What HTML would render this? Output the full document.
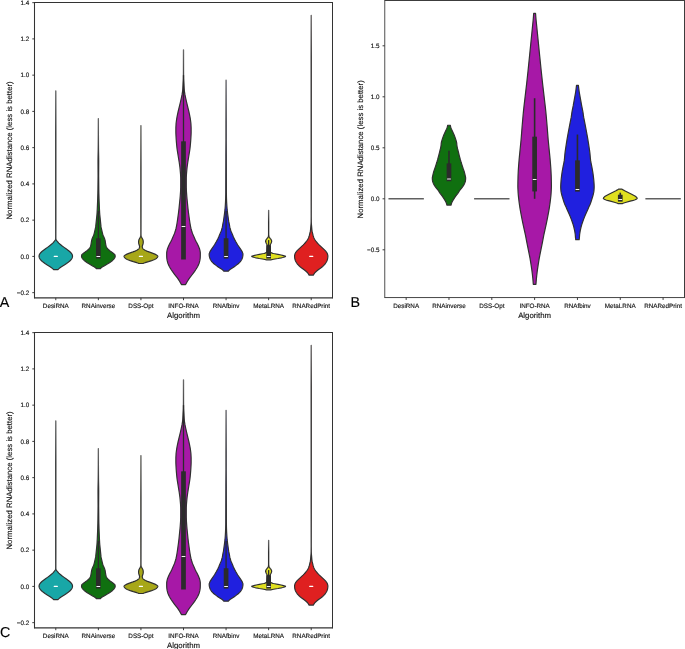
<!DOCTYPE html>
<html><head><meta charset="utf-8"><title>Normalized RNAdistance violin plots</title>
<style>
html,body{margin:0;padding:0;background:#fff;}
body{width:685px;height:649px;overflow:hidden;}
svg{display:block;font-family:"Liberation Sans",Arial,sans-serif;fill:#111111;will-change:transform;text-rendering:geometricPrecision;}
text{stroke:#111111;stroke-width:0.14px;}
</style></head><body>
<svg width="685" height="649" viewBox="0 0 685 649">
<rect width="685" height="649" fill="#ffffff"/>
<linearGradient id="gA0" gradientUnits="userSpaceOnUse" x1="0" y1="90.92" x2="0" y2="132.92"><stop offset="0" stop-color="#686868"/><stop offset="1" stop-color="#303030"/></linearGradient>
<path d="M53.69,269.68 L53.37,269.32 L52.89,268.84 L52.35,268.36 L51.88,268.01 L50.12,266.81 L47.28,265.03 L44.99,263.48 L43.35,262.28 L42.44,261.57 L41.76,260.97 L41.03,260.26 L40.50,259.66 L40.14,259.18 L39.69,258.47 L39.45,257.99 L39.26,257.39 L39.09,256.68 L39.05,256.20 L39.07,255.84 L39.16,255.37 L39.36,254.65 L39.51,254.29 L39.82,253.82 L40.37,253.10 L40.68,252.74 L41.15,252.27 L42.20,251.31 L43.24,250.48 L44.19,249.76 L45.88,248.57 L47.50,247.38 L49.38,245.95 L50.59,244.99 L51.46,244.28 L51.99,243.80 L52.74,243.08 L53.31,242.49 L54.05,241.65 L54.43,241.18 L54.67,240.82 L55.10,240.10 L55.28,239.74 L55.42,239.39 L55.60,238.67 L55.71,238.07 L55.73,237.60 L55.71,220.54 L55.71,90.92 L55.87,90.92 L55.87,220.54 L55.84,237.60 L55.86,238.07 L55.97,238.67 L56.15,239.39 L56.29,239.74 L56.47,240.10 L56.90,240.82 L57.15,241.18 L57.52,241.65 L58.26,242.49 L58.83,243.08 L59.58,243.80 L60.12,244.28 L60.98,244.99 L62.19,245.95 L64.08,247.38 L65.70,248.57 L67.38,249.76 L68.33,250.48 L69.37,251.31 L70.42,252.27 L70.89,252.74 L71.20,253.10 L71.76,253.82 L72.06,254.29 L72.21,254.65 L72.41,255.37 L72.50,255.84 L72.52,256.20 L72.48,256.68 L72.31,257.39 L72.12,257.99 L71.89,258.47 L71.43,259.18 L71.08,259.66 L70.54,260.26 L69.82,260.97 L69.13,261.57 L68.23,262.28 L66.58,263.48 L64.30,265.03 L61.45,266.81 L59.69,268.01 L59.22,268.36 L58.68,268.84 L58.20,269.32 L57.88,269.68 Z" fill="#18a7a7" stroke="url(#gA0)" stroke-width="1.2" stroke-linejoin="round"/>
<rect x="53.69" y="255.70" width="4.2" height="1.4" rx="0.5" fill="#ffffff"/>
<linearGradient id="gA1" gradientUnits="userSpaceOnUse" x1="0" y1="118.65" x2="0" y2="160.65"><stop offset="0" stop-color="#686868"/><stop offset="1" stop-color="#303030"/></linearGradient>
<path d="M96.26,268.53 L96.03,268.23 L95.64,267.83 L95.17,267.43 L94.76,267.13 L94.09,266.73 L92.58,265.93 L90.98,265.03 L89.77,264.33 L88.99,263.83 L87.22,262.63 L85.82,261.73 L85.25,261.33 L84.86,261.03 L84.17,260.43 L83.64,259.93 L82.90,259.13 L82.49,258.63 L82.22,258.23 L81.74,257.33 L81.59,256.93 L81.55,256.53 L81.59,255.83 L81.70,255.03 L81.78,254.83 L82.00,254.53 L82.42,254.13 L83.49,253.23 L85.16,252.03 L86.61,250.93 L87.24,250.43 L88.29,249.53 L88.90,248.93 L89.58,248.13 L89.93,247.63 L90.25,247.03 L90.58,246.23 L90.83,245.33 L91.06,244.03 L91.48,241.23 L91.71,240.13 L91.95,239.33 L92.43,238.03 L93.43,235.73 L93.79,234.73 L94.08,233.83 L94.34,232.83 L95.20,229.13 L95.57,227.43 L95.73,226.43 L96.93,214.74 L97.08,212.84 L97.25,209.54 L97.61,201.34 L97.86,193.24 L97.93,189.34 L98.07,176.24 L98.01,161.34 L98.04,157.74 L98.19,149.55 L98.23,144.55 L98.27,134.75 L98.29,118.65 L98.43,118.65 L98.44,134.75 L98.49,144.55 L98.53,149.55 L98.67,157.74 L98.71,161.34 L98.65,176.24 L98.78,189.34 L98.85,193.24 L99.11,201.34 L99.46,209.54 L99.64,212.84 L99.79,214.74 L100.98,226.43 L101.14,227.43 L101.52,229.13 L102.37,232.83 L102.64,233.83 L102.92,234.73 L103.28,235.73 L104.28,238.03 L104.76,239.33 L105.01,240.13 L105.23,241.23 L105.65,244.03 L105.89,245.33 L106.13,246.23 L106.46,247.03 L106.78,247.63 L107.14,248.13 L107.82,248.93 L108.43,249.53 L109.48,250.43 L110.10,250.93 L111.56,252.03 L113.22,253.23 L114.30,254.13 L114.72,254.53 L114.94,254.83 L115.01,255.03 L115.13,255.83 L115.17,256.53 L115.12,256.93 L114.98,257.33 L114.50,258.23 L114.23,258.63 L113.81,259.13 L113.07,259.93 L112.55,260.43 L111.85,261.03 L111.47,261.33 L110.90,261.73 L109.50,262.63 L107.72,263.83 L106.94,264.33 L105.74,265.03 L104.13,265.93 L102.63,266.73 L101.95,267.13 L101.54,267.43 L101.08,267.83 L100.69,268.23 L100.45,268.53 Z" fill="#107010" stroke="url(#gA1)" stroke-width="1.2" stroke-linejoin="round"/>
<line x1="98.36" y1="256.40" x2="98.36" y2="211.09" stroke="#2b2b2b" stroke-width="1.3"/>
<rect x="96.01" y="238.27" width="4.7" height="20.32" fill="#2b2b2b"/>
<rect x="96.46" y="255.95" width="3.8" height="1.1" rx="0.3" fill="#f6f6f6"/>
<linearGradient id="gA2" gradientUnits="userSpaceOnUse" x1="0" y1="125.54" x2="0" y2="167.54"><stop offset="0" stop-color="#686868"/><stop offset="1" stop-color="#303030"/></linearGradient>
<path d="M138.83,263.52 L137.74,263.06 L136.74,262.69 L135.87,262.42 L133.33,261.68 L130.21,260.67 L128.52,260.02 L127.25,259.47 L126.57,259.10 L125.96,258.73 L125.57,258.46 L125.25,258.18 L124.65,257.54 L124.30,257.08 L124.11,256.71 L124.06,256.52 L124.04,256.34 L124.08,256.16 L124.18,255.97 L124.51,255.60 L125.31,254.96 L125.80,254.68 L126.41,254.41 L128.20,253.67 L132.94,251.92 L135.04,251.09 L136.29,250.54 L137.29,249.99 L137.86,249.62 L138.21,249.35 L138.68,248.88 L138.99,248.52 L139.16,248.24 L139.34,247.78 L139.49,247.32 L139.58,246.86 L139.60,246.49 L139.53,246.03 L138.88,244.01 L138.76,243.55 L138.66,242.81 L138.61,242.26 L138.60,241.80 L138.64,241.24 L138.77,240.32 L138.91,239.86 L139.46,238.67 L140.08,237.47 L140.45,236.64 L140.62,236.18 L140.70,235.91 L140.78,235.35 L140.85,234.80 L140.87,234.34 L140.85,211.88 L140.85,125.54 L141.01,125.54 L141.01,211.88 L140.98,234.34 L141.01,234.80 L141.07,235.35 L141.16,235.91 L141.23,236.18 L141.41,236.64 L141.78,237.47 L142.39,238.67 L142.94,239.86 L143.09,240.32 L143.22,241.24 L143.25,241.80 L143.25,242.26 L143.20,242.81 L143.09,243.55 L142.98,244.01 L142.33,246.03 L142.26,246.49 L142.27,246.86 L142.37,247.32 L142.51,247.78 L142.70,248.24 L142.87,248.52 L143.18,248.88 L143.65,249.35 L144.00,249.62 L144.57,249.99 L145.56,250.54 L146.82,251.09 L148.92,251.92 L153.65,253.67 L155.45,254.41 L156.06,254.68 L156.54,254.96 L157.34,255.60 L157.68,255.97 L157.78,256.16 L157.82,256.34 L157.80,256.52 L157.75,256.71 L157.56,257.08 L157.20,257.54 L156.61,258.18 L156.29,258.46 L155.90,258.73 L155.29,259.10 L154.61,259.47 L153.34,260.02 L151.65,260.67 L148.53,261.68 L145.99,262.42 L145.12,262.69 L144.11,263.06 L143.03,263.52 Z" fill="#a7a718" stroke="url(#gA2)" stroke-width="1.2" stroke-linejoin="round"/>
<rect x="138.83" y="255.70" width="4.2" height="1.4" rx="0.5" fill="#ffffff"/>
<linearGradient id="gA3" gradientUnits="userSpaceOnUse" x1="0" y1="49.90" x2="0" y2="91.90"><stop offset="0" stop-color="#686868"/><stop offset="1" stop-color="#303030"/></linearGradient>
<path d="M181.40,284.53 L179.57,281.24 L178.99,280.30 L178.37,279.36 L177.37,277.96 L174.70,274.51 L173.30,272.63 L172.40,271.38 L171.45,269.97 L170.56,268.56 L169.90,267.47 L169.21,266.22 L168.67,265.12 L168.08,263.71 L167.65,262.46 L167.24,260.89 L166.98,259.49 L166.81,258.23 L166.73,256.98 L166.69,255.73 L166.69,253.07 L166.71,252.60 L166.76,252.13 L167.07,250.41 L167.35,249.31 L167.81,247.90 L168.60,246.03 L169.32,244.46 L169.79,243.52 L171.04,241.17 L171.88,239.45 L172.73,237.57 L173.67,235.38 L174.38,233.66 L174.90,232.25 L175.55,230.22 L176.02,228.49 L176.48,226.30 L177.06,223.02 L177.51,220.04 L178.47,213.15 L179.01,208.62 L180.01,198.60 L180.23,196.09 L180.59,191.08 L180.70,187.17 L180.71,178.09 L180.66,176.68 L180.53,174.18 L180.41,172.62 L180.10,169.17 L179.90,167.29 L179.73,165.88 L179.20,162.28 L177.37,150.86 L177.01,148.35 L176.75,146.01 L176.48,143.03 L176.27,140.37 L176.08,137.55 L175.91,134.27 L175.86,132.54 L175.87,127.69 L176.03,124.41 L176.19,122.53 L176.55,119.71 L177.08,116.58 L177.48,114.54 L177.92,112.51 L180.37,102.34 L181.28,98.27 L181.85,95.61 L182.12,94.20 L182.49,91.85 L182.69,90.28 L182.83,88.40 L183.06,83.87 L183.30,80.11 L183.38,78.23 L183.42,71.03 L183.43,49.90 L183.57,49.90 L183.58,71.03 L183.62,78.23 L183.70,80.11 L183.94,83.87 L184.17,88.40 L184.31,90.28 L184.51,91.85 L184.88,94.20 L185.15,95.61 L185.72,98.27 L186.63,102.34 L189.08,112.51 L189.52,114.54 L189.92,116.58 L190.45,119.71 L190.81,122.53 L190.97,124.41 L191.13,127.69 L191.14,132.54 L191.09,134.27 L190.92,137.55 L190.73,140.37 L190.52,143.03 L190.25,146.01 L189.99,148.35 L189.63,150.86 L187.80,162.28 L187.27,165.88 L187.10,167.29 L186.90,169.17 L186.59,172.62 L186.47,174.18 L186.34,176.68 L186.29,178.09 L186.30,187.17 L186.41,191.08 L186.77,196.09 L186.99,198.60 L187.99,208.62 L188.53,213.15 L189.49,220.04 L189.94,223.02 L190.52,226.30 L190.98,228.49 L191.45,230.22 L192.10,232.25 L192.62,233.66 L193.33,235.38 L194.27,237.57 L195.12,239.45 L195.96,241.17 L197.21,243.52 L197.68,244.46 L198.40,246.03 L199.19,247.90 L199.65,249.31 L199.93,250.41 L200.24,252.13 L200.29,252.60 L200.31,253.07 L200.31,255.73 L200.27,256.98 L200.19,258.23 L200.02,259.49 L199.76,260.89 L199.35,262.46 L198.92,263.71 L198.33,265.12 L197.79,266.22 L197.10,267.47 L196.44,268.56 L195.55,269.97 L194.60,271.38 L193.70,272.63 L192.30,274.51 L189.63,277.96 L188.63,279.36 L188.01,280.30 L187.43,281.24 L185.60,284.53 Z" fill="#a718a7" stroke="url(#gA3)" stroke-width="1.2" stroke-linejoin="round"/>
<line x1="183.50" y1="256.40" x2="183.50" y2="75.15" stroke="#2b2b2b" stroke-width="1.3"/>
<rect x="181.15" y="141.31" width="4.7" height="118.20" fill="#2b2b2b"/>
<rect x="181.60" y="225.95" width="3.8" height="1.1" rx="0.3" fill="#f6f6f6"/>
<linearGradient id="gA4" gradientUnits="userSpaceOnUse" x1="0" y1="80.22" x2="0" y2="122.22"><stop offset="0" stop-color="#686868"/><stop offset="1" stop-color="#303030"/></linearGradient>
<path d="M223.97,271.22 L223.51,270.72 L223.11,270.33 L222.68,269.95 L222.19,269.57 L219.78,267.91 L217.07,266.13 L216.02,265.36 L215.01,264.60 L214.23,263.96 L213.38,263.20 L212.58,262.43 L211.97,261.80 L211.36,261.03 L210.68,260.01 L210.26,259.25 L209.90,258.36 L209.61,257.46 L209.43,256.70 L209.24,255.30 L209.18,254.28 L209.23,253.77 L209.41,253.13 L209.92,251.86 L210.18,251.35 L210.48,250.84 L211.57,249.18 L213.88,245.74 L214.54,244.72 L216.42,241.54 L217.45,239.63 L218.14,238.22 L218.71,236.95 L219.30,235.55 L220.16,233.38 L221.00,231.47 L221.39,230.45 L221.84,229.05 L222.26,227.39 L222.44,226.50 L222.74,224.59 L223.40,221.40 L223.62,220.00 L224.45,214.01 L224.79,211.34 L224.98,209.68 L225.26,206.24 L225.51,202.04 L225.66,198.34 L225.75,193.88 L225.87,156.17 L225.97,139.35 L226.00,80.22 L226.14,80.22 L226.17,139.35 L226.27,156.17 L226.39,193.88 L226.48,198.34 L226.63,202.04 L226.89,206.24 L227.17,209.68 L227.35,211.34 L227.69,214.01 L228.52,220.00 L228.74,221.40 L229.40,224.59 L229.70,226.50 L229.88,227.39 L230.30,229.05 L230.76,230.45 L231.14,231.47 L231.98,233.38 L232.85,235.55 L233.43,236.95 L234.01,238.22 L234.69,239.63 L235.73,241.54 L237.60,244.72 L238.26,245.74 L240.58,249.18 L241.66,250.84 L241.97,251.35 L242.22,251.86 L242.73,253.13 L242.91,253.77 L242.96,254.28 L242.90,255.30 L242.71,256.70 L242.54,257.46 L242.24,258.36 L241.88,259.25 L241.47,260.01 L240.78,261.03 L240.17,261.80 L239.57,262.43 L238.77,263.20 L237.91,263.96 L237.13,264.60 L236.12,265.36 L235.07,266.13 L232.36,267.91 L229.95,269.57 L229.46,269.95 L229.03,270.33 L228.63,270.72 L228.17,271.22 Z" fill="#2020df" stroke="url(#gA4)" stroke-width="1.2" stroke-linejoin="round"/>
<line x1="226.07" y1="256.40" x2="226.07" y2="211.09" stroke="#2b2b2b" stroke-width="1.3"/>
<rect x="223.72" y="238.27" width="4.7" height="20.32" fill="#2b2b2b"/>
<rect x="224.17" y="255.95" width="3.8" height="1.1" rx="0.3" fill="#f6f6f6"/>
<linearGradient id="gA5" gradientUnits="userSpaceOnUse" x1="0" y1="210.30" x2="0" y2="222.30"><stop offset="0" stop-color="#686868"/><stop offset="1" stop-color="#303030"/></linearGradient>
<path d="M266.55,259.82 L263.73,259.26 L259.34,258.53 L256.03,257.84 L254.61,257.48 L252.58,256.85 L252.23,256.72 L251.96,256.59 L251.79,256.45 L251.75,256.35 L251.80,256.25 L251.93,256.16 L252.40,255.96 L253.04,255.76 L254.73,255.30 L256.15,255.00 L259.37,254.40 L262.46,253.78 L263.69,253.51 L264.45,253.31 L265.01,253.12 L266.11,252.59 L266.55,252.29 L266.68,252.16 L266.76,252.03 L266.85,251.53 L266.92,250.87 L267.07,248.36 L267.28,246.44 L267.31,245.68 L267.24,245.35 L267.09,244.96 L266.69,244.06 L266.20,243.17 L266.03,242.78 L265.70,241.75 L265.64,241.42 L265.62,241.12 L265.66,240.83 L265.77,240.50 L266.25,239.47 L266.50,239.11 L267.15,238.32 L267.88,237.36 L268.20,236.86 L268.30,236.63 L268.38,236.30 L268.53,235.41 L268.55,235.01 L268.56,232.53 L268.56,210.30 L268.72,210.30 L268.72,232.53 L268.74,235.01 L268.76,235.41 L268.91,236.30 L268.99,236.63 L269.08,236.86 L269.40,237.36 L270.13,238.32 L270.78,239.11 L271.04,239.47 L271.52,240.50 L271.62,240.83 L271.66,241.12 L271.65,241.42 L271.59,241.75 L271.26,242.78 L271.08,243.17 L270.60,244.06 L270.19,244.96 L270.04,245.35 L269.97,245.68 L270.00,246.44 L270.22,248.36 L270.37,250.87 L270.44,251.53 L270.53,252.03 L270.60,252.16 L270.73,252.29 L271.17,252.59 L272.27,253.12 L272.84,253.31 L273.60,253.51 L274.82,253.78 L277.92,254.40 L281.13,255.00 L282.55,255.30 L284.25,255.76 L284.89,255.96 L285.35,256.16 L285.48,256.25 L285.53,256.35 L285.49,256.45 L285.33,256.59 L285.06,256.72 L284.71,256.85 L282.67,257.48 L281.26,257.84 L277.95,258.53 L273.56,259.26 L270.74,259.82 Z" fill="#dfdf20" stroke="url(#gA5)" stroke-width="1.2" stroke-linejoin="round"/>
<line x1="268.64" y1="256.40" x2="268.64" y2="240.09" stroke="#2b2b2b" stroke-width="1.3"/>
<rect x="266.29" y="245.16" width="4.7" height="13.44" fill="#2b2b2b"/>
<rect x="266.74" y="255.95" width="3.8" height="1.1" rx="0.3" fill="#f6f6f6"/>
<linearGradient id="gA6" gradientUnits="userSpaceOnUse" x1="0" y1="15.34" x2="0" y2="57.34"><stop offset="0" stop-color="#686868"/><stop offset="1" stop-color="#303030"/></linearGradient>
<path d="M309.12,275.07 L308.55,274.20 L307.69,272.99 L307.28,272.47 L306.78,271.95 L305.99,271.26 L304.47,270.04 L301.69,267.97 L299.76,266.41 L298.99,265.71 L298.48,265.19 L297.85,264.50 L297.28,263.81 L296.55,262.77 L295.92,261.73 L295.57,261.03 L295.24,260.17 L294.96,259.30 L294.80,258.61 L294.62,257.22 L294.56,256.18 L294.59,255.66 L294.68,255.14 L294.90,254.28 L295.13,253.58 L295.29,253.24 L295.59,252.72 L296.46,251.50 L296.73,251.16 L297.20,250.64 L298.75,249.08 L303.03,245.09 L304.24,243.88 L305.06,243.01 L305.94,241.97 L306.85,240.76 L307.53,239.72 L308.21,238.51 L308.46,237.99 L308.74,237.30 L309.20,235.91 L309.48,234.87 L309.88,233.14 L310.23,231.75 L310.38,231.06 L310.59,229.33 L311.09,223.26 L311.14,221.88 L311.18,216.16 L311.13,167.99 L311.13,15.34 L311.29,15.34 L311.29,167.99 L311.24,216.16 L311.29,221.88 L311.34,223.26 L311.84,229.33 L312.05,231.06 L312.20,231.75 L312.55,233.14 L312.94,234.87 L313.23,235.91 L313.69,237.30 L313.97,237.99 L314.22,238.51 L314.90,239.72 L315.58,240.76 L316.49,241.97 L317.37,243.01 L318.19,243.88 L319.40,245.09 L323.68,249.08 L325.23,250.64 L325.70,251.16 L325.97,251.50 L326.83,252.72 L327.14,253.24 L327.30,253.58 L327.53,254.28 L327.75,255.14 L327.84,255.66 L327.87,256.18 L327.81,257.22 L327.62,258.61 L327.47,259.30 L327.19,260.17 L326.86,261.03 L326.51,261.73 L325.88,262.77 L325.14,263.81 L324.58,264.50 L323.95,265.19 L323.44,265.71 L322.67,266.41 L320.74,267.97 L317.95,270.04 L316.44,271.26 L315.65,271.95 L315.15,272.47 L314.73,272.99 L313.88,274.20 L313.31,275.07 Z" fill="#df2020" stroke="url(#gA6)" stroke-width="1.2" stroke-linejoin="round"/>
<rect x="309.11" y="255.70" width="4.2" height="1.4" rx="0.5" fill="#ffffff"/>
<line x1="34.50" y1="2.00" x2="34.50" y2="298.48" stroke="#333333" stroke-width="1.05"/>
<line x1="332.50" y1="2.00" x2="332.50" y2="298.48" stroke="#333333" stroke-width="1.0"/>
<line x1="34.50" y1="2.50" x2="332.50" y2="2.50" stroke="#333333" stroke-width="1.0"/>
<line x1="34.50" y1="297.80" x2="332.50" y2="297.80" stroke="#333333" stroke-width="1.35"/>
<line x1="32.30" y1="292.65" x2="34.50" y2="292.65" stroke="#333" stroke-width="0.95"/>
<text x="29.30" y="294.95" font-size="6.3" text-anchor="end">−0.2</text>
<line x1="32.30" y1="256.40" x2="34.50" y2="256.40" stroke="#333" stroke-width="0.95"/>
<text x="29.30" y="258.70" font-size="6.3" text-anchor="end">0.0</text>
<line x1="32.30" y1="220.15" x2="34.50" y2="220.15" stroke="#333" stroke-width="0.95"/>
<text x="29.30" y="222.45" font-size="6.3" text-anchor="end">0.2</text>
<line x1="32.30" y1="183.90" x2="34.50" y2="183.90" stroke="#333" stroke-width="0.95"/>
<text x="29.30" y="186.20" font-size="6.3" text-anchor="end">0.4</text>
<line x1="32.30" y1="147.65" x2="34.50" y2="147.65" stroke="#333" stroke-width="0.95"/>
<text x="29.30" y="149.95" font-size="6.3" text-anchor="end">0.6</text>
<line x1="32.30" y1="111.40" x2="34.50" y2="111.40" stroke="#333" stroke-width="0.95"/>
<text x="29.30" y="113.70" font-size="6.3" text-anchor="end">0.8</text>
<line x1="32.30" y1="75.15" x2="34.50" y2="75.15" stroke="#333" stroke-width="0.95"/>
<text x="29.30" y="77.45" font-size="6.3" text-anchor="end">1.0</text>
<line x1="32.30" y1="38.90" x2="34.50" y2="38.90" stroke="#333" stroke-width="0.95"/>
<text x="29.30" y="41.20" font-size="6.3" text-anchor="end">1.2</text>
<line x1="32.30" y1="2.65" x2="34.50" y2="2.65" stroke="#333" stroke-width="0.95"/>
<text x="29.30" y="4.95" font-size="6.3" text-anchor="end">1.4</text>
<line x1="55.79" y1="297.80" x2="55.79" y2="300.20" stroke="#333" stroke-width="0.95"/>
<text x="55.79" y="307.65" font-size="6.3" text-anchor="middle">DesiRNA</text>
<line x1="98.36" y1="297.80" x2="98.36" y2="300.20" stroke="#333" stroke-width="0.95"/>
<text x="98.36" y="307.65" font-size="6.3" text-anchor="middle">RNAinverse</text>
<line x1="140.93" y1="297.80" x2="140.93" y2="300.20" stroke="#333" stroke-width="0.95"/>
<text x="140.93" y="307.65" font-size="6.3" text-anchor="middle">DSS-Opt</text>
<line x1="183.50" y1="297.80" x2="183.50" y2="300.20" stroke="#333" stroke-width="0.95"/>
<text x="183.50" y="307.65" font-size="6.3" text-anchor="middle">INFO-RNA</text>
<line x1="226.07" y1="297.80" x2="226.07" y2="300.20" stroke="#333" stroke-width="0.95"/>
<text x="226.07" y="307.65" font-size="6.3" text-anchor="middle">RNAfbinv</text>
<line x1="268.64" y1="297.80" x2="268.64" y2="300.20" stroke="#333" stroke-width="0.95"/>
<text x="268.64" y="307.65" font-size="6.3" text-anchor="middle">MetaLRNA</text>
<line x1="311.21" y1="297.80" x2="311.21" y2="300.20" stroke="#333" stroke-width="0.95"/>
<text x="311.21" y="307.65" font-size="6.3" text-anchor="middle">RNARedPrint</text>
<text x="183.50" y="318.10" font-size="7.8" text-anchor="middle">Algorithm</text>
<text transform="translate(12.00,150.40) rotate(-90)" font-size="7.8" text-anchor="middle">Normalized RNAdistance (less is better)</text>
<text x="-0.15" y="307.10" font-size="14.3" fill="#000" stroke="#000" stroke-width="0.12">A</text>
<line x1="388.46" y1="198.80" x2="423.86" y2="198.80" stroke="#606060" stroke-width="1.6"/>
<path d="M446.89,205.06 L446.72,204.32 L446.48,203.46 L446.27,202.88 L445.98,202.19 L445.70,201.60 L445.35,200.96 L444.09,198.88 L443.11,197.39 L441.90,195.64 L440.13,193.35 L439.59,192.60 L439.18,191.96 L438.79,191.22 L438.44,190.68 L437.80,189.89 L436.33,188.18 L435.80,187.49 L434.57,185.68 L433.87,184.51 L433.53,183.81 L433.14,182.86 L432.84,182.00 L432.62,181.26 L432.51,180.67 L432.42,179.87 L432.35,178.92 L432.32,178.12 L432.35,177.69 L432.42,177.21 L432.86,175.08 L433.22,173.54 L433.64,171.94 L433.97,170.87 L434.82,168.48 L435.62,166.08 L436.84,162.30 L437.73,159.27 L438.69,155.64 L439.58,152.02 L440.35,148.99 L440.73,147.34 L440.92,146.33 L441.06,145.37 L441.13,144.73 L441.23,143.40 L441.30,142.81 L441.46,142.01 L441.70,141.11 L442.63,138.13 L443.09,136.85 L443.69,135.30 L444.38,133.71 L445.50,131.20 L446.44,129.23 L446.86,128.22 L447.06,127.64 L447.32,126.73 L447.51,125.98 L447.66,125.24 L450.31,125.24 L450.46,125.98 L450.64,126.73 L450.90,127.64 L451.10,128.22 L451.53,129.23 L452.46,131.20 L453.59,133.71 L454.27,135.30 L454.87,136.85 L455.33,138.13 L456.27,141.11 L456.51,142.01 L456.66,142.81 L456.73,143.40 L456.83,144.73 L456.90,145.37 L457.04,146.33 L457.24,147.34 L457.61,148.99 L458.39,152.02 L459.27,155.64 L460.23,159.27 L461.12,162.30 L462.35,166.08 L463.14,168.48 L463.99,170.87 L464.32,171.94 L464.75,173.54 L465.10,175.08 L465.55,177.21 L465.62,177.69 L465.64,178.12 L465.62,178.92 L465.54,179.87 L465.46,180.67 L465.34,181.26 L465.13,182.00 L464.82,182.86 L464.44,183.81 L464.10,184.51 L463.40,185.68 L462.17,187.49 L461.63,188.18 L460.16,189.89 L459.53,190.68 L459.17,191.22 L458.78,191.96 L458.38,192.60 L457.83,193.35 L456.06,195.64 L454.85,197.39 L453.88,198.88 L452.61,200.96 L452.27,201.60 L451.99,202.19 L451.69,202.88 L451.48,203.46 L451.24,204.32 L451.08,205.06 Z" fill="#107010" stroke="#303030" stroke-width="1.2" stroke-linejoin="round"/>
<line x1="448.98" y1="179.93" x2="448.98" y2="150.86" stroke="#2b2b2b" stroke-width="1.6"/>
<rect x="446.63" y="163.41" width="4.7" height="17.82" fill="#2b2b2b"/>
<rect x="447.08" y="178.45" width="3.8" height="1.1" rx="0.3" fill="#f6f6f6"/>
<line x1="474.10" y1="198.80" x2="509.50" y2="198.80" stroke="#606060" stroke-width="1.6"/>
<path d="M533.30,284.31 L533.10,281.60 L532.83,278.52 L532.51,275.45 L532.18,272.56 L531.79,269.67 L531.04,264.61 L530.53,261.36 L530.08,258.65 L529.50,255.58 L526.98,243.11 L525.51,235.34 L523.30,225.40 L522.10,219.62 L520.71,212.40 L519.96,208.06 L519.50,204.99 L519.10,202.10 L518.60,197.94 L518.33,195.41 L518.16,193.24 L517.96,189.81 L517.88,187.82 L517.85,186.02 L517.90,181.68 L518.04,176.08 L518.29,170.48 L518.54,166.68 L518.91,161.99 L519.30,157.65 L521.05,139.94 L521.35,136.33 L522.07,126.93 L522.99,116.27 L523.46,111.40 L523.86,107.60 L526.66,83.57 L527.99,71.28 L529.59,55.57 L532.63,25.21 L533.17,19.97 L533.44,16.90 L533.68,13.47 L535.57,13.47 L535.81,16.90 L536.08,19.97 L536.62,25.21 L539.66,55.57 L541.26,71.28 L542.59,83.57 L545.39,107.60 L545.79,111.40 L546.26,116.27 L547.18,126.93 L547.90,136.33 L548.20,139.94 L549.95,157.65 L550.34,161.99 L550.71,166.68 L550.96,170.48 L551.21,176.08 L551.35,181.68 L551.40,186.02 L551.37,187.82 L551.29,189.81 L551.09,193.24 L550.92,195.41 L550.65,197.94 L550.15,202.10 L549.75,204.99 L549.29,208.06 L548.54,212.40 L547.15,219.62 L545.95,225.40 L543.74,235.34 L542.27,243.11 L539.75,255.58 L539.17,258.65 L538.72,261.36 L538.21,264.61 L537.46,269.67 L537.07,272.56 L536.74,275.45 L536.42,278.52 L536.15,281.60 L535.95,284.31 Z" fill="#a718a7" stroke="#303030" stroke-width="1.2" stroke-linejoin="round"/>
<line x1="534.62" y1="198.80" x2="534.62" y2="98.23" stroke="#2b2b2b" stroke-width="1.6"/>
<rect x="532.27" y="136.68" width="4.7" height="54.75" fill="#2b2b2b"/>
<rect x="532.73" y="178.95" width="3.8" height="1.1" rx="0.3" fill="#f6f6f6"/>
<path d="M575.74,239.68 L575.54,238.13 L575.28,234.74 L575.06,233.09 L574.64,230.72 L574.35,229.28 L573.95,227.53 L573.55,225.99 L572.98,224.14 L572.27,221.97 L571.32,219.40 L570.44,217.14 L569.37,214.56 L566.64,208.39 L566.18,207.36 L564.86,204.58 L564.49,203.65 L564.02,202.32 L562.00,195.73 L561.75,194.80 L561.24,192.64 L561.01,191.41 L560.89,190.28 L560.75,188.32 L560.71,186.78 L560.78,184.61 L561.00,181.22 L561.26,178.54 L561.71,174.84 L562.14,171.96 L562.90,167.53 L563.18,166.09 L563.91,162.59 L564.25,160.63 L564.47,158.78 L564.84,154.56 L565.08,152.40 L565.49,149.42 L566.36,143.65 L567.12,138.92 L567.84,134.80 L568.86,129.24 L570.14,122.55 L571.23,117.20 L571.51,115.45 L571.75,113.39 L572.00,111.75 L572.27,110.31 L573.18,105.88 L575.34,93.84 L575.68,91.78 L575.96,89.93 L576.25,87.66 L576.51,85.40 L578.39,85.40 L578.64,87.66 L578.94,89.93 L579.21,91.78 L579.55,93.84 L581.71,105.88 L582.62,110.31 L582.89,111.75 L583.15,113.39 L583.38,115.45 L583.66,117.20 L584.75,122.55 L586.03,129.24 L587.05,134.80 L587.77,138.92 L588.53,143.65 L589.40,149.42 L589.81,152.40 L590.05,154.56 L590.42,158.78 L590.65,160.63 L590.99,162.59 L591.72,166.09 L591.99,167.53 L592.75,171.96 L593.18,174.84 L593.63,178.54 L593.89,181.22 L594.11,184.61 L594.18,186.78 L594.14,188.32 L594.00,190.28 L593.88,191.41 L593.66,192.64 L593.15,194.80 L592.90,195.73 L590.87,202.32 L590.40,203.65 L590.03,204.58 L588.71,207.36 L588.25,208.39 L585.53,214.56 L584.46,217.14 L583.57,219.40 L582.63,221.97 L581.91,224.14 L581.35,225.99 L580.94,227.53 L580.54,229.28 L580.25,230.72 L579.83,233.09 L579.61,234.74 L579.35,238.13 L579.16,239.68 Z" fill="#2020df" stroke="#303030" stroke-width="1.2" stroke-linejoin="round"/>
<line x1="577.45" y1="189.93" x2="577.45" y2="134.54" stroke="#2b2b2b" stroke-width="1.6"/>
<rect x="575.10" y="160.35" width="4.7" height="31.29" fill="#2b2b2b"/>
<rect x="575.55" y="188.95" width="3.8" height="1.1" rx="0.3" fill="#f6f6f6"/>
<path d="M618.17,203.59 L617.46,203.28 L616.72,202.99 L615.15,202.47 L610.37,201.14 L607.28,200.34 L606.01,199.95 L605.56,199.78 L604.68,199.38 L603.90,198.99 L603.66,198.82 L603.49,198.67 L603.40,198.52 L603.38,198.39 L603.42,198.17 L603.52,197.93 L603.69,197.68 L603.94,197.39 L604.84,196.51 L605.18,196.26 L605.62,195.98 L607.48,194.93 L608.40,194.44 L610.87,193.17 L615.90,190.67 L617.36,189.90 L618.79,189.10 L621.75,189.10 L623.17,189.90 L624.64,190.67 L629.66,193.17 L632.14,194.44 L633.06,194.93 L634.92,195.98 L635.36,196.26 L635.69,196.51 L636.60,197.39 L636.84,197.68 L637.01,197.93 L637.11,198.17 L637.16,198.39 L637.14,198.52 L637.05,198.67 L636.88,198.82 L636.63,198.99 L635.85,199.38 L634.98,199.78 L634.53,199.95 L633.26,200.34 L630.16,201.14 L625.38,202.47 L623.81,202.99 L623.07,203.28 L622.36,203.59 Z" fill="#dfdf20" stroke="#303030" stroke-width="1.2" stroke-linejoin="round"/>
<line x1="620.27" y1="200.33" x2="620.27" y2="192.68" stroke="#2b2b2b" stroke-width="1.6"/>
<rect x="617.92" y="194.72" width="4.7" height="6.91" fill="#2b2b2b"/>
<rect x="618.37" y="198.95" width="3.8" height="1.1" rx="0.3" fill="#f6f6f6"/>
<line x1="645.39" y1="198.80" x2="680.79" y2="198.80" stroke="#606060" stroke-width="1.6"/>
<line x1="384.75" y1="0.00" x2="384.75" y2="298.03" stroke="#3c3c3c" stroke-width="0.9"/>
<line x1="684.50" y1="0.00" x2="684.50" y2="298.03" stroke="#3c3c3c" stroke-width="1.0"/>
<line x1="384.75" y1="0.50" x2="684.50" y2="0.50" stroke="#3c3c3c" stroke-width="1.0"/>
<line x1="384.75" y1="297.55" x2="684.50" y2="297.55" stroke="#3c3c3c" stroke-width="0.95"/>
<line x1="382.55" y1="249.80" x2="384.75" y2="249.80" stroke="#333" stroke-width="0.95"/>
<text x="379.55" y="252.10" font-size="6.3" text-anchor="end">−0.5</text>
<line x1="382.55" y1="198.80" x2="384.75" y2="198.80" stroke="#333" stroke-width="0.95"/>
<text x="379.55" y="201.10" font-size="6.3" text-anchor="end">0.0</text>
<line x1="382.55" y1="147.80" x2="384.75" y2="147.80" stroke="#333" stroke-width="0.95"/>
<text x="379.55" y="150.10" font-size="6.3" text-anchor="end">0.5</text>
<line x1="382.55" y1="96.80" x2="384.75" y2="96.80" stroke="#333" stroke-width="0.95"/>
<text x="379.55" y="99.10" font-size="6.3" text-anchor="end">1.0</text>
<line x1="382.55" y1="45.80" x2="384.75" y2="45.80" stroke="#333" stroke-width="0.95"/>
<text x="379.55" y="48.10" font-size="6.3" text-anchor="end">1.5</text>
<line x1="406.16" y1="297.55" x2="406.16" y2="299.95" stroke="#333" stroke-width="0.95"/>
<text x="406.16" y="307.65" font-size="6.3" text-anchor="middle">DesiRNA</text>
<line x1="448.98" y1="297.55" x2="448.98" y2="299.95" stroke="#333" stroke-width="0.95"/>
<text x="448.98" y="307.65" font-size="6.3" text-anchor="middle">RNAinverse</text>
<line x1="491.80" y1="297.55" x2="491.80" y2="299.95" stroke="#333" stroke-width="0.95"/>
<text x="491.80" y="307.65" font-size="6.3" text-anchor="middle">DSS-Opt</text>
<line x1="534.62" y1="297.55" x2="534.62" y2="299.95" stroke="#333" stroke-width="0.95"/>
<text x="534.62" y="307.65" font-size="6.3" text-anchor="middle">INFO-RNA</text>
<line x1="577.45" y1="297.55" x2="577.45" y2="299.95" stroke="#333" stroke-width="0.95"/>
<text x="577.45" y="307.65" font-size="6.3" text-anchor="middle">RNAfbinv</text>
<line x1="620.27" y1="297.55" x2="620.27" y2="299.95" stroke="#333" stroke-width="0.95"/>
<text x="620.27" y="307.65" font-size="6.3" text-anchor="middle">MetaLRNA</text>
<line x1="663.09" y1="297.55" x2="663.09" y2="299.95" stroke="#333" stroke-width="0.95"/>
<text x="663.09" y="307.65" font-size="6.3" text-anchor="middle">RNARedPrint</text>
<text x="534.62" y="318.10" font-size="7.8" text-anchor="middle">Algorithm</text>
<text transform="translate(362.95,149.33) rotate(-90)" font-size="7.8" text-anchor="middle">Normalized RNAdistance (less is better)</text>
<text x="350.60" y="307.10" font-size="14.3" fill="#000" stroke="#000" stroke-width="0.12">B</text>
<linearGradient id="gC0" gradientUnits="userSpaceOnUse" x1="0" y1="420.92" x2="0" y2="462.92"><stop offset="0" stop-color="#686868"/><stop offset="1" stop-color="#303030"/></linearGradient>
<path d="M53.69,599.68 L53.37,599.32 L52.89,598.84 L52.35,598.36 L51.88,598.01 L50.12,596.81 L47.28,595.03 L44.99,593.48 L43.35,592.28 L42.44,591.57 L41.76,590.97 L41.03,590.26 L40.50,589.66 L40.14,589.18 L39.69,588.47 L39.45,587.99 L39.26,587.39 L39.09,586.68 L39.05,586.20 L39.07,585.84 L39.16,585.37 L39.36,584.65 L39.51,584.29 L39.82,583.82 L40.37,583.10 L40.68,582.74 L41.15,582.27 L42.20,581.31 L43.24,580.48 L44.19,579.76 L45.88,578.57 L47.50,577.38 L49.38,575.95 L50.59,574.99 L51.46,574.28 L51.99,573.80 L52.74,573.08 L53.31,572.49 L54.05,571.65 L54.43,571.18 L54.67,570.82 L55.10,570.10 L55.28,569.74 L55.42,569.39 L55.60,568.67 L55.71,568.07 L55.73,567.60 L55.71,550.54 L55.71,420.92 L55.87,420.92 L55.87,550.54 L55.84,567.60 L55.86,568.07 L55.97,568.67 L56.15,569.39 L56.29,569.74 L56.47,570.10 L56.90,570.82 L57.15,571.18 L57.52,571.65 L58.26,572.49 L58.83,573.08 L59.58,573.80 L60.12,574.28 L60.98,574.99 L62.19,575.95 L64.08,577.38 L65.70,578.57 L67.38,579.76 L68.33,580.48 L69.37,581.31 L70.42,582.27 L70.89,582.74 L71.20,583.10 L71.76,583.82 L72.06,584.29 L72.21,584.65 L72.41,585.37 L72.50,585.84 L72.52,586.20 L72.48,586.68 L72.31,587.39 L72.12,587.99 L71.89,588.47 L71.43,589.18 L71.08,589.66 L70.54,590.26 L69.82,590.97 L69.13,591.57 L68.23,592.28 L66.58,593.48 L64.30,595.03 L61.45,596.81 L59.69,598.01 L59.22,598.36 L58.68,598.84 L58.20,599.32 L57.88,599.68 Z" fill="#18a7a7" stroke="url(#gC0)" stroke-width="1.2" stroke-linejoin="round"/>
<rect x="53.69" y="585.70" width="4.2" height="1.4" rx="0.5" fill="#ffffff"/>
<linearGradient id="gC1" gradientUnits="userSpaceOnUse" x1="0" y1="448.65" x2="0" y2="490.65"><stop offset="0" stop-color="#686868"/><stop offset="1" stop-color="#303030"/></linearGradient>
<path d="M96.26,598.53 L96.03,598.23 L95.64,597.83 L95.17,597.43 L94.76,597.13 L94.09,596.73 L92.58,595.93 L90.98,595.03 L89.77,594.33 L88.99,593.83 L87.22,592.63 L85.82,591.73 L85.25,591.33 L84.86,591.03 L84.17,590.43 L83.64,589.93 L82.90,589.13 L82.49,588.63 L82.22,588.23 L81.74,587.33 L81.59,586.93 L81.55,586.53 L81.59,585.83 L81.70,585.03 L81.78,584.83 L82.00,584.53 L82.42,584.13 L83.49,583.23 L85.16,582.03 L86.61,580.93 L87.24,580.43 L88.29,579.53 L88.90,578.93 L89.58,578.13 L89.93,577.63 L90.25,577.03 L90.58,576.23 L90.83,575.33 L91.06,574.03 L91.48,571.23 L91.71,570.13 L91.95,569.33 L92.43,568.03 L93.43,565.73 L93.79,564.73 L94.08,563.83 L94.34,562.83 L95.20,559.13 L95.57,557.43 L95.73,556.43 L96.93,544.74 L97.08,542.84 L97.25,539.54 L97.61,531.34 L97.86,523.24 L97.93,519.34 L98.07,506.24 L98.01,491.34 L98.04,487.74 L98.19,479.55 L98.23,474.55 L98.27,464.75 L98.29,448.65 L98.43,448.65 L98.44,464.75 L98.49,474.55 L98.53,479.55 L98.67,487.74 L98.71,491.34 L98.65,506.24 L98.78,519.34 L98.85,523.24 L99.11,531.34 L99.46,539.54 L99.64,542.84 L99.79,544.74 L100.98,556.43 L101.14,557.43 L101.52,559.13 L102.37,562.83 L102.64,563.83 L102.92,564.73 L103.28,565.73 L104.28,568.03 L104.76,569.33 L105.01,570.13 L105.23,571.23 L105.65,574.03 L105.89,575.33 L106.13,576.23 L106.46,577.03 L106.78,577.63 L107.14,578.13 L107.82,578.93 L108.43,579.53 L109.48,580.43 L110.10,580.93 L111.56,582.03 L113.22,583.23 L114.30,584.13 L114.72,584.53 L114.94,584.83 L115.01,585.03 L115.13,585.83 L115.17,586.53 L115.12,586.93 L114.98,587.33 L114.50,588.23 L114.23,588.63 L113.81,589.13 L113.07,589.93 L112.55,590.43 L111.85,591.03 L111.47,591.33 L110.90,591.73 L109.50,592.63 L107.72,593.83 L106.94,594.33 L105.74,595.03 L104.13,595.93 L102.63,596.73 L101.95,597.13 L101.54,597.43 L101.08,597.83 L100.69,598.23 L100.45,598.53 Z" fill="#107010" stroke="url(#gC1)" stroke-width="1.2" stroke-linejoin="round"/>
<line x1="98.36" y1="586.40" x2="98.36" y2="541.09" stroke="#2b2b2b" stroke-width="1.3"/>
<rect x="96.01" y="568.27" width="4.7" height="20.32" fill="#2b2b2b"/>
<rect x="96.46" y="585.95" width="3.8" height="1.1" rx="0.3" fill="#f6f6f6"/>
<linearGradient id="gC2" gradientUnits="userSpaceOnUse" x1="0" y1="455.54" x2="0" y2="497.54"><stop offset="0" stop-color="#686868"/><stop offset="1" stop-color="#303030"/></linearGradient>
<path d="M138.83,593.52 L137.74,593.06 L136.74,592.69 L135.87,592.42 L133.33,591.68 L130.21,590.67 L128.52,590.02 L127.25,589.47 L126.57,589.10 L125.96,588.73 L125.57,588.46 L125.25,588.18 L124.65,587.54 L124.30,587.08 L124.11,586.71 L124.06,586.52 L124.04,586.34 L124.08,586.16 L124.18,585.97 L124.51,585.60 L125.31,584.96 L125.80,584.68 L126.41,584.41 L128.20,583.67 L132.94,581.92 L135.04,581.09 L136.29,580.54 L137.29,579.99 L137.86,579.62 L138.21,579.35 L138.68,578.88 L138.99,578.52 L139.16,578.24 L139.34,577.78 L139.49,577.32 L139.58,576.86 L139.60,576.49 L139.53,576.03 L138.88,574.01 L138.76,573.55 L138.66,572.81 L138.61,572.26 L138.60,571.80 L138.64,571.24 L138.77,570.32 L138.91,569.86 L139.46,568.67 L140.08,567.47 L140.45,566.64 L140.62,566.18 L140.70,565.91 L140.78,565.35 L140.85,564.80 L140.87,564.34 L140.85,541.88 L140.85,455.54 L141.01,455.54 L141.01,541.88 L140.98,564.34 L141.01,564.80 L141.07,565.35 L141.16,565.91 L141.23,566.18 L141.41,566.64 L141.78,567.47 L142.39,568.67 L142.94,569.86 L143.09,570.32 L143.22,571.24 L143.25,571.80 L143.25,572.26 L143.20,572.81 L143.09,573.55 L142.98,574.01 L142.33,576.03 L142.26,576.49 L142.27,576.86 L142.37,577.32 L142.51,577.78 L142.70,578.24 L142.87,578.52 L143.18,578.88 L143.65,579.35 L144.00,579.62 L144.57,579.99 L145.56,580.54 L146.82,581.09 L148.92,581.92 L153.65,583.67 L155.45,584.41 L156.06,584.68 L156.54,584.96 L157.34,585.60 L157.68,585.97 L157.78,586.16 L157.82,586.34 L157.80,586.52 L157.75,586.71 L157.56,587.08 L157.20,587.54 L156.61,588.18 L156.29,588.46 L155.90,588.73 L155.29,589.10 L154.61,589.47 L153.34,590.02 L151.65,590.67 L148.53,591.68 L145.99,592.42 L145.12,592.69 L144.11,593.06 L143.03,593.52 Z" fill="#a7a718" stroke="url(#gC2)" stroke-width="1.2" stroke-linejoin="round"/>
<rect x="138.83" y="585.70" width="4.2" height="1.4" rx="0.5" fill="#ffffff"/>
<linearGradient id="gC3" gradientUnits="userSpaceOnUse" x1="0" y1="379.90" x2="0" y2="421.90"><stop offset="0" stop-color="#686868"/><stop offset="1" stop-color="#303030"/></linearGradient>
<path d="M181.40,614.53 L179.57,611.24 L178.99,610.30 L178.37,609.36 L177.37,607.96 L174.70,604.51 L173.30,602.63 L172.40,601.38 L171.45,599.97 L170.56,598.56 L169.90,597.47 L169.21,596.22 L168.67,595.12 L168.08,593.71 L167.65,592.46 L167.24,590.89 L166.98,589.49 L166.81,588.23 L166.73,586.98 L166.69,585.73 L166.69,583.07 L166.71,582.60 L166.76,582.13 L167.07,580.41 L167.35,579.31 L167.81,577.90 L168.60,576.03 L169.32,574.46 L169.79,573.52 L171.04,571.17 L171.88,569.45 L172.73,567.57 L173.67,565.38 L174.38,563.66 L174.90,562.25 L175.55,560.22 L176.02,558.49 L176.48,556.30 L177.06,553.02 L177.51,550.04 L178.47,543.15 L179.01,538.62 L180.01,528.60 L180.23,526.09 L180.59,521.08 L180.70,517.17 L180.71,508.09 L180.66,506.68 L180.53,504.18 L180.41,502.62 L180.10,499.17 L179.90,497.29 L179.73,495.88 L179.20,492.28 L177.37,480.86 L177.01,478.35 L176.75,476.01 L176.48,473.03 L176.27,470.37 L176.08,467.55 L175.91,464.27 L175.86,462.54 L175.87,457.69 L176.03,454.41 L176.19,452.53 L176.55,449.71 L177.08,446.58 L177.48,444.54 L177.92,442.51 L180.37,432.34 L181.28,428.27 L181.85,425.61 L182.12,424.20 L182.49,421.85 L182.69,420.28 L182.83,418.40 L183.06,413.87 L183.30,410.11 L183.38,408.23 L183.42,401.03 L183.43,379.90 L183.57,379.90 L183.58,401.03 L183.62,408.23 L183.70,410.11 L183.94,413.87 L184.17,418.40 L184.31,420.28 L184.51,421.85 L184.88,424.20 L185.15,425.61 L185.72,428.27 L186.63,432.34 L189.08,442.51 L189.52,444.54 L189.92,446.58 L190.45,449.71 L190.81,452.53 L190.97,454.41 L191.13,457.69 L191.14,462.54 L191.09,464.27 L190.92,467.55 L190.73,470.37 L190.52,473.03 L190.25,476.01 L189.99,478.35 L189.63,480.86 L187.80,492.28 L187.27,495.88 L187.10,497.29 L186.90,499.17 L186.59,502.62 L186.47,504.18 L186.34,506.68 L186.29,508.09 L186.30,517.17 L186.41,521.08 L186.77,526.09 L186.99,528.60 L187.99,538.62 L188.53,543.15 L189.49,550.04 L189.94,553.02 L190.52,556.30 L190.98,558.49 L191.45,560.22 L192.10,562.25 L192.62,563.66 L193.33,565.38 L194.27,567.57 L195.12,569.45 L195.96,571.17 L197.21,573.52 L197.68,574.46 L198.40,576.03 L199.19,577.90 L199.65,579.31 L199.93,580.41 L200.24,582.13 L200.29,582.60 L200.31,583.07 L200.31,585.73 L200.27,586.98 L200.19,588.23 L200.02,589.49 L199.76,590.89 L199.35,592.46 L198.92,593.71 L198.33,595.12 L197.79,596.22 L197.10,597.47 L196.44,598.56 L195.55,599.97 L194.60,601.38 L193.70,602.63 L192.30,604.51 L189.63,607.96 L188.63,609.36 L188.01,610.30 L187.43,611.24 L185.60,614.53 Z" fill="#a718a7" stroke="url(#gC3)" stroke-width="1.2" stroke-linejoin="round"/>
<line x1="183.50" y1="586.40" x2="183.50" y2="405.15" stroke="#2b2b2b" stroke-width="1.3"/>
<rect x="181.15" y="471.31" width="4.7" height="118.20" fill="#2b2b2b"/>
<rect x="181.60" y="555.95" width="3.8" height="1.1" rx="0.3" fill="#f6f6f6"/>
<linearGradient id="gC4" gradientUnits="userSpaceOnUse" x1="0" y1="410.23" x2="0" y2="452.23"><stop offset="0" stop-color="#686868"/><stop offset="1" stop-color="#303030"/></linearGradient>
<path d="M223.97,601.22 L223.51,600.72 L223.11,600.33 L222.68,599.95 L222.19,599.57 L219.78,597.91 L217.07,596.13 L216.02,595.36 L215.01,594.60 L214.23,593.96 L213.38,593.20 L212.58,592.43 L211.97,591.80 L211.36,591.03 L210.68,590.01 L210.26,589.25 L209.90,588.36 L209.61,587.46 L209.43,586.70 L209.24,585.30 L209.18,584.28 L209.23,583.77 L209.41,583.13 L209.92,581.86 L210.18,581.35 L210.48,580.84 L211.57,579.18 L213.88,575.74 L214.54,574.72 L216.42,571.54 L217.45,569.63 L218.14,568.22 L218.71,566.95 L219.30,565.55 L220.16,563.38 L221.00,561.47 L221.39,560.45 L221.84,559.05 L222.26,557.39 L222.44,556.50 L222.74,554.59 L223.40,551.40 L223.62,550.00 L224.45,544.01 L224.79,541.34 L224.98,539.68 L225.26,536.24 L225.51,532.04 L225.66,528.34 L225.75,523.88 L225.87,486.17 L225.97,469.35 L226.00,410.23 L226.14,410.23 L226.17,469.35 L226.27,486.17 L226.39,523.88 L226.48,528.34 L226.63,532.04 L226.89,536.24 L227.17,539.68 L227.35,541.34 L227.69,544.01 L228.52,550.00 L228.74,551.40 L229.40,554.59 L229.70,556.50 L229.88,557.39 L230.30,559.05 L230.76,560.45 L231.14,561.47 L231.98,563.38 L232.85,565.55 L233.43,566.95 L234.01,568.22 L234.69,569.63 L235.73,571.54 L237.60,574.72 L238.26,575.74 L240.58,579.18 L241.66,580.84 L241.97,581.35 L242.22,581.86 L242.73,583.13 L242.91,583.77 L242.96,584.28 L242.90,585.30 L242.71,586.70 L242.54,587.46 L242.24,588.36 L241.88,589.25 L241.47,590.01 L240.78,591.03 L240.17,591.80 L239.57,592.43 L238.77,593.20 L237.91,593.96 L237.13,594.60 L236.12,595.36 L235.07,596.13 L232.36,597.91 L229.95,599.57 L229.46,599.95 L229.03,600.33 L228.63,600.72 L228.17,601.22 Z" fill="#2020df" stroke="url(#gC4)" stroke-width="1.2" stroke-linejoin="round"/>
<line x1="226.07" y1="586.40" x2="226.07" y2="541.09" stroke="#2b2b2b" stroke-width="1.3"/>
<rect x="223.72" y="568.27" width="4.7" height="20.32" fill="#2b2b2b"/>
<rect x="224.17" y="585.95" width="3.8" height="1.1" rx="0.3" fill="#f6f6f6"/>
<linearGradient id="gC5" gradientUnits="userSpaceOnUse" x1="0" y1="540.30" x2="0" y2="552.30"><stop offset="0" stop-color="#686868"/><stop offset="1" stop-color="#303030"/></linearGradient>
<path d="M266.55,589.82 L263.73,589.26 L259.34,588.53 L256.03,587.84 L254.61,587.48 L252.58,586.85 L252.23,586.72 L251.96,586.59 L251.79,586.45 L251.75,586.35 L251.80,586.25 L251.93,586.16 L252.40,585.96 L253.04,585.76 L254.73,585.30 L256.15,585.00 L259.37,584.40 L262.46,583.78 L263.69,583.51 L264.45,583.31 L265.01,583.12 L266.11,582.59 L266.55,582.29 L266.68,582.16 L266.76,582.03 L266.85,581.53 L266.92,580.87 L267.07,578.36 L267.28,576.44 L267.31,575.68 L267.24,575.35 L267.09,574.96 L266.69,574.06 L266.20,573.17 L266.03,572.78 L265.70,571.75 L265.64,571.42 L265.62,571.12 L265.66,570.83 L265.77,570.50 L266.25,569.47 L266.50,569.11 L267.15,568.32 L267.88,567.36 L268.20,566.86 L268.30,566.63 L268.38,566.30 L268.53,565.41 L268.55,565.01 L268.56,562.53 L268.56,540.30 L268.72,540.30 L268.72,562.53 L268.74,565.01 L268.76,565.41 L268.91,566.30 L268.99,566.63 L269.08,566.86 L269.40,567.36 L270.13,568.32 L270.78,569.11 L271.04,569.47 L271.52,570.50 L271.62,570.83 L271.66,571.12 L271.65,571.42 L271.59,571.75 L271.26,572.78 L271.08,573.17 L270.60,574.06 L270.19,574.96 L270.04,575.35 L269.97,575.68 L270.00,576.44 L270.22,578.36 L270.37,580.87 L270.44,581.53 L270.53,582.03 L270.60,582.16 L270.73,582.29 L271.17,582.59 L272.27,583.12 L272.84,583.31 L273.60,583.51 L274.82,583.78 L277.92,584.40 L281.13,585.00 L282.55,585.30 L284.25,585.76 L284.89,585.96 L285.35,586.16 L285.48,586.25 L285.53,586.35 L285.49,586.45 L285.33,586.59 L285.06,586.72 L284.71,586.85 L282.67,587.48 L281.26,587.84 L277.95,588.53 L273.56,589.26 L270.74,589.82 Z" fill="#dfdf20" stroke="url(#gC5)" stroke-width="1.2" stroke-linejoin="round"/>
<line x1="268.64" y1="586.40" x2="268.64" y2="570.09" stroke="#2b2b2b" stroke-width="1.3"/>
<rect x="266.29" y="575.16" width="4.7" height="13.44" fill="#2b2b2b"/>
<rect x="266.74" y="585.95" width="3.8" height="1.1" rx="0.3" fill="#f6f6f6"/>
<linearGradient id="gC6" gradientUnits="userSpaceOnUse" x1="0" y1="345.34" x2="0" y2="387.34"><stop offset="0" stop-color="#686868"/><stop offset="1" stop-color="#303030"/></linearGradient>
<path d="M309.12,605.07 L308.55,604.20 L307.69,602.99 L307.28,602.47 L306.78,601.95 L305.99,601.26 L304.47,600.04 L301.69,597.97 L299.76,596.41 L298.99,595.71 L298.48,595.19 L297.85,594.50 L297.28,593.81 L296.55,592.77 L295.92,591.73 L295.57,591.03 L295.24,590.17 L294.96,589.30 L294.80,588.61 L294.62,587.22 L294.56,586.18 L294.59,585.66 L294.68,585.14 L294.90,584.28 L295.13,583.58 L295.29,583.24 L295.59,582.72 L296.46,581.50 L296.73,581.16 L297.20,580.64 L298.75,579.08 L303.03,575.09 L304.24,573.88 L305.06,573.01 L305.94,571.97 L306.85,570.76 L307.53,569.72 L308.21,568.51 L308.46,567.99 L308.74,567.30 L309.20,565.91 L309.48,564.87 L309.88,563.14 L310.23,561.75 L310.38,561.06 L310.59,559.33 L311.09,553.26 L311.14,551.88 L311.18,546.16 L311.13,497.99 L311.13,345.34 L311.29,345.34 L311.29,497.99 L311.24,546.16 L311.29,551.88 L311.34,553.26 L311.84,559.33 L312.05,561.06 L312.20,561.75 L312.55,563.14 L312.94,564.87 L313.23,565.91 L313.69,567.30 L313.97,567.99 L314.22,568.51 L314.90,569.72 L315.58,570.76 L316.49,571.97 L317.37,573.01 L318.19,573.88 L319.40,575.09 L323.68,579.08 L325.23,580.64 L325.70,581.16 L325.97,581.50 L326.83,582.72 L327.14,583.24 L327.30,583.58 L327.53,584.28 L327.75,585.14 L327.84,585.66 L327.87,586.18 L327.81,587.22 L327.62,588.61 L327.47,589.30 L327.19,590.17 L326.86,591.03 L326.51,591.73 L325.88,592.77 L325.14,593.81 L324.58,594.50 L323.95,595.19 L323.44,595.71 L322.67,596.41 L320.74,597.97 L317.95,600.04 L316.44,601.26 L315.65,601.95 L315.15,602.47 L314.73,602.99 L313.88,604.20 L313.31,605.07 Z" fill="#df2020" stroke="url(#gC6)" stroke-width="1.2" stroke-linejoin="round"/>
<rect x="309.11" y="585.70" width="4.2" height="1.4" rx="0.5" fill="#ffffff"/>
<line x1="34.50" y1="332.00" x2="34.50" y2="628.47" stroke="#333333" stroke-width="1.05"/>
<line x1="332.50" y1="332.00" x2="332.50" y2="628.47" stroke="#333333" stroke-width="1.0"/>
<line x1="34.50" y1="332.50" x2="332.50" y2="332.50" stroke="#333333" stroke-width="1.0"/>
<line x1="34.50" y1="627.80" x2="332.50" y2="627.80" stroke="#333333" stroke-width="1.35"/>
<line x1="32.30" y1="622.65" x2="34.50" y2="622.65" stroke="#333" stroke-width="0.95"/>
<text x="29.30" y="624.95" font-size="6.3" text-anchor="end">−0.2</text>
<line x1="32.30" y1="586.40" x2="34.50" y2="586.40" stroke="#333" stroke-width="0.95"/>
<text x="29.30" y="588.70" font-size="6.3" text-anchor="end">0.0</text>
<line x1="32.30" y1="550.15" x2="34.50" y2="550.15" stroke="#333" stroke-width="0.95"/>
<text x="29.30" y="552.45" font-size="6.3" text-anchor="end">0.2</text>
<line x1="32.30" y1="513.90" x2="34.50" y2="513.90" stroke="#333" stroke-width="0.95"/>
<text x="29.30" y="516.20" font-size="6.3" text-anchor="end">0.4</text>
<line x1="32.30" y1="477.65" x2="34.50" y2="477.65" stroke="#333" stroke-width="0.95"/>
<text x="29.30" y="479.95" font-size="6.3" text-anchor="end">0.6</text>
<line x1="32.30" y1="441.40" x2="34.50" y2="441.40" stroke="#333" stroke-width="0.95"/>
<text x="29.30" y="443.70" font-size="6.3" text-anchor="end">0.8</text>
<line x1="32.30" y1="405.15" x2="34.50" y2="405.15" stroke="#333" stroke-width="0.95"/>
<text x="29.30" y="407.45" font-size="6.3" text-anchor="end">1.0</text>
<line x1="32.30" y1="368.90" x2="34.50" y2="368.90" stroke="#333" stroke-width="0.95"/>
<text x="29.30" y="371.20" font-size="6.3" text-anchor="end">1.2</text>
<line x1="32.30" y1="332.65" x2="34.50" y2="332.65" stroke="#333" stroke-width="0.95"/>
<text x="29.30" y="334.95" font-size="6.3" text-anchor="end">1.4</text>
<line x1="55.79" y1="627.80" x2="55.79" y2="630.20" stroke="#333" stroke-width="0.95"/>
<text x="55.79" y="637.65" font-size="6.3" text-anchor="middle">DesiRNA</text>
<line x1="98.36" y1="627.80" x2="98.36" y2="630.20" stroke="#333" stroke-width="0.95"/>
<text x="98.36" y="637.65" font-size="6.3" text-anchor="middle">RNAinverse</text>
<line x1="140.93" y1="627.80" x2="140.93" y2="630.20" stroke="#333" stroke-width="0.95"/>
<text x="140.93" y="637.65" font-size="6.3" text-anchor="middle">DSS-Opt</text>
<line x1="183.50" y1="627.80" x2="183.50" y2="630.20" stroke="#333" stroke-width="0.95"/>
<text x="183.50" y="637.65" font-size="6.3" text-anchor="middle">INFO-RNA</text>
<line x1="226.07" y1="627.80" x2="226.07" y2="630.20" stroke="#333" stroke-width="0.95"/>
<text x="226.07" y="637.65" font-size="6.3" text-anchor="middle">RNAfbinv</text>
<line x1="268.64" y1="627.80" x2="268.64" y2="630.20" stroke="#333" stroke-width="0.95"/>
<text x="268.64" y="637.65" font-size="6.3" text-anchor="middle">MetaLRNA</text>
<line x1="311.21" y1="627.80" x2="311.21" y2="630.20" stroke="#333" stroke-width="0.95"/>
<text x="311.21" y="637.65" font-size="6.3" text-anchor="middle">RNARedPrint</text>
<text x="183.50" y="648.10" font-size="7.8" text-anchor="middle">Algorithm</text>
<text transform="translate(12.00,480.40) rotate(-90)" font-size="7.8" text-anchor="middle">Normalized RNAdistance (less is better)</text>
<text x="-0.10" y="637.15" font-size="14.3" fill="#000" stroke="#000" stroke-width="0.12">C</text>
</svg>
</body></html>
